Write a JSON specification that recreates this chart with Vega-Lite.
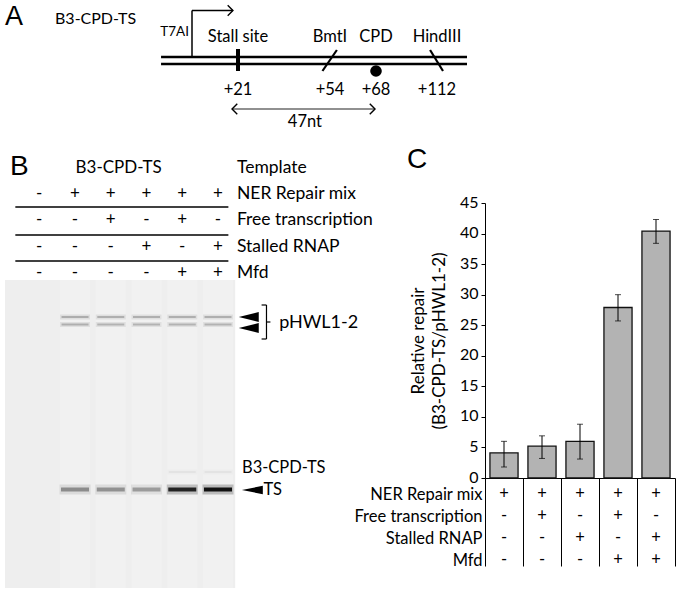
{
  "$schema": "https://vega.github.io/schema/vega-lite/v6.json",
  "padding": 0,
  "background": "white",
  "spacing": 0,
  "bounds": "flush",
  "config": {"font": "Lato", "view": {"stroke": null}, "text": {"color": "black"},
    "axisY": {"grid": false, "titleFontSize": 17, "titleFontWeight": "normal", "titleColor": "black", "titlePadding": 11, "titleLineHeight": 21,
              "labelFontSize": 16, "labelColor": "black", "labelPadding": 3, "tickSize": 4, "tickColor": "black", "domainColor": "black"}},
  "vconcat": [
    {
      "width": 677,
      "height": 140,
      "encoding": {
        "x": {"field": "pos", "type": "quantitative", "axis": null,
              "scale": {"domain": [-84, 1, 21, 54, 68, 112, 134], "range": [0, 192, 238, 330, 376, 437, 467], "zero": false, "nice": false}},
        "y": {"field": "track", "type": "quantitative", "axis": null,
              "scale": {"domain": [-7.95, 6.05], "zero": false, "nice": false}}
      },
      "layer": [
        {"data": {"values": [
          {"pos": -12.7, "pos2": 134, "track": 0.35, "track2": 0.35},
          {"pos": -12.7, "pos2": 134, "track": -0.35, "track2": -0.35}]},
         "mark": {"type": "rule", "color": "black", "strokeWidth": 2.4},
         "encoding": {"x2": {"field": "pos2"}, "y2": {"field": "track2"}}},
        {"data": {"values": [
          {"pos": 1, "pos2": 1, "track": 0.35, "track2": 5.0},
          {"pos": 1, "pos2": 18.8, "track": 5.0, "track2": 5.0}]},
         "mark": {"type": "rule", "color": "black", "strokeWidth": 1.5},
         "encoding": {"x2": {"field": "pos2"}, "y2": {"field": "track2"}}},
        {"data": {"values": [{"pos": 21, "pos2": 21, "track": 1.15, "track2": -1.05}]},
         "mark": {"type": "rule", "color": "black", "strokeWidth": 4},
         "encoding": {"x2": {"field": "pos2"}, "y2": {"field": "track2"}}},
        {"data": {"values": [
          {"pos": 51.3, "pos2": 56.1, "track": -1.05, "track2": 1.05},
          {"pos": 107, "pos2": 116.4, "track": 1.05, "track2": -1.05}]},
         "mark": {"type": "rule", "color": "black", "strokeWidth": 2.2},
         "encoding": {"x2": {"field": "pos2"}, "y2": {"field": "track2"}}},
        {"data": {"values": [{"pos": 18.4, "pos2": 67.7, "track": -4.85, "track2": -4.85}]},
         "mark": {"type": "rule", "color": "#222222", "strokeWidth": 1.2},
         "encoding": {"x2": {"field": "pos2"}, "y2": {"field": "track2"}}},
        {"data": {"values": [{"pos": 18.8, "track": 5.0}, {"pos": 67.7, "track": -4.85}]},
         "mark": {"type": "point", "shape": "M-1,-1L0,0L-1,1", "filled": false, "stroke": "black", "strokeWidth": 1.4, "size": 110, "opacity": 1}},
        {"data": {"values": [{"pos": 18.4, "track": -4.85}]},
         "mark": {"type": "point", "shape": "M1,-1L0,0L1,1", "filled": false, "stroke": "black", "strokeWidth": 1.4, "size": 110, "opacity": 1}},
        {"data": {"values": [{"pos": 68, "track": -1.05}]},
         "mark": {"type": "point", "shape": "circle", "filled": true, "color": "black", "size": 135, "opacity": 1}},
        {"data": {"values": [
          {"pos": 21, "track": 2.35, "label": "Stall site"},
          {"pos": 54, "track": 2.35, "label": "BmtI"},
          {"pos": 68, "track": 2.35, "label": "CPD"},
          {"pos": 112, "track": 2.35, "label": "HindIII"},
          {"pos": 21, "track": -2.95, "label": "+21"},
          {"pos": 54, "track": -2.95, "label": "+54"},
          {"pos": 68, "track": -2.95, "label": "+68"},
          {"pos": 112, "track": -2.95, "label": "+112"},
          {"pos": 45, "track": -6.15, "label": "47nt"}]},
         "mark": {"type": "text", "fontSize": 16.5, "align": "center", "baseline": "middle"},
         "encoding": {"text": {"field": "label"}}},
        {"data": {"values": [{"pos": -0.33, "track": 2.82, "label": "T7AI"}]},
         "mark": {"type": "text", "fontSize": 13.5, "align": "right", "baseline": "middle"},
         "encoding": {"text": {"field": "label"}}},
        {"data": {"values": [{"pos": -59.65, "track": 4.15, "label": "B3-CPD-TS"}]},
         "mark": {"type": "text", "fontSize": 16, "align": "left", "baseline": "middle"},
         "encoding": {"text": {"field": "label"}}},
        {"data": {"values": [{"pos": -81.8, "track": 4.4, "label": "A"}]},
         "mark": {"type": "text", "font": "Liberation Sans", "fontSize": 27, "align": "left", "baseline": "middle"},
         "encoding": {"text": {"field": "label"}}}
      ]
    },
    {
      "spacing": 0,
      "bounds": "flush",
      "hconcat": [
        {
          "width": 485,
          "height": 449,
          "encoding": {
            "x": {"field": "lane", "type": "quantitative", "axis": null,
                  "scale": {"domain": [0.0411, 13.329], "zero": false, "nice": false}},
            "y": {"field": "depth", "type": "quantitative", "axis": null,
                  "scale": {"domain": [0, 44.9], "reverse": true, "zero": false, "nice": false}}
          },
          "layer": [
            {"data": {"values": [{"lane": 0.041, "lane2": 6.48, "depth": 14, "depth2": 44.8}]},
             "mark": {"type": "rect", "color": "#eeeeee"},
             "encoding": {"x2": {"field": "lane2"}, "y2": {"field": "depth2"}}},
            {"data": {"values": [
              {"lane": 2, "depth": 14}, {"lane": 3, "depth": 14},
              {"lane": 4, "depth": 14}, {"lane": 5, "depth": 14}, {"lane": 6, "depth": 14}]},
             "mark": {"type": "bar", "color": "#f1f1f1", "width": 30},
             "encoding": {"y2": {"datum": 44.8}}},
            {"data": {"values": [
              {"lane": 2, "depth": 17.7, "intensity": 0.22},
              {"lane": 3, "depth": 17.7, "intensity": 0.21},
              {"lane": 4, "depth": 17.7, "intensity": 0.21},
              {"lane": 5, "depth": 17.7, "intensity": 0.21},
              {"lane": 6, "depth": 17.7, "intensity": 0.21},
              {"lane": 2, "depth": 18.45, "intensity": 0.21},
              {"lane": 3, "depth": 18.45, "intensity": 0.2},
              {"lane": 4, "depth": 18.45, "intensity": 0.2},
              {"lane": 5, "depth": 18.45, "intensity": 0.2},
              {"lane": 6, "depth": 18.45, "intensity": 0.2},
              {"lane": 5, "depth": 33.2, "intensity": 0.04},
              {"lane": 6, "depth": 33.2, "intensity": 0.04}]},
             "layer": [
               {"mark": {"type": "tick", "orient": "horizontal", "size": 30, "thickness": 5, "color": "black", "fillOpacity": 0.35}},
               {"mark": {"type": "tick", "orient": "horizontal", "size": 27, "thickness": 2, "color": "black"}}
             ],
             "encoding": {"opacity": {"field": "intensity", "type": "quantitative", "legend": null, "scale": {"domain": [0, 1], "range": [0, 1]}}}},
            {"data": {"values": [
              {"lane": 2, "depth": 34.95, "intensity": 0.36},
              {"lane": 3, "depth": 34.95, "intensity": 0.34},
              {"lane": 4, "depth": 34.95, "intensity": 0.3},
              {"lane": 5, "depth": 34.95, "intensity": 0.82},
              {"lane": 6, "depth": 34.95, "intensity": 0.9}]},
             "layer": [
               {"mark": {"type": "tick", "orient": "horizontal", "size": 31, "thickness": 10, "color": "black", "fillOpacity": 0.25}},
               {"mark": {"type": "tick", "orient": "horizontal", "size": 28, "thickness": 4, "color": "black"}}
             ],
             "encoding": {"opacity": {"field": "intensity", "type": "quantitative", "legend": null, "scale": {"domain": [0, 1], "range": [0, 1]}}}},
            {"data": {"values": [
              {"lane": 0.33, "lane2": 6.29, "depth": 6.7, "depth2": 6.7},
              {"lane": 0.33, "lane2": 6.29, "depth": 9.5, "depth2": 9.5},
              {"lane": 0.33, "lane2": 6.29, "depth": 12.1, "depth2": 12.1}]},
             "mark": {"type": "rule", "color": "black", "strokeWidth": 1.3},
             "encoding": {"x2": {"field": "lane2"}, "y2": {"field": "depth2"}}},
            {"data": {"values": [
              {"lane": 7.219, "lane2": 7.356, "depth": 16.5, "depth2": 16.5},
              {"lane": 7.356, "lane2": 7.356, "depth": 16.5, "depth2": 19.9},
              {"lane": 7.219, "lane2": 7.356, "depth": 19.9, "depth2": 19.9},
              {"lane": 7.356, "lane2": 7.466, "depth": 18.2, "depth2": 18.2}]},
             "mark": {"type": "rule", "color": "black", "strokeWidth": 1.2},
             "encoding": {"x2": {"field": "lane2"}, "y2": {"field": "depth2"}}},
            {"data": {"values": [{"lane": 6.86, "depth": 17.7}, {"lane": 6.86, "depth": 18.8}]},
             "mark": {"type": "point", "shape": "M-1,0L1,-0.5L1,0.5Z", "filled": true, "color": "black", "size": 400, "opacity": 1}},
            {"data": {"values": [{"lane": 6.96, "depth": 35.0}]},
             "mark": {"type": "point", "shape": "M-1,0L1,-0.4L1,0.4Z", "filled": true, "color": "black", "size": 441, "opacity": 1}},
            {"data": {"values": [{"lane": 0.178, "depth": 2.7, "label": "B"}]},
             "mark": {"type": "text", "font": "Liberation Sans", "fontSize": 28, "align": "left", "baseline": "middle"},
             "encoding": {"text": {"field": "label"}}},
            {"data": {"values": [{"lane": 3.22, "depth": 2.8, "label": "B3-CPD-TS"}]},
             "mark": {"type": "text", "fontSize": 17, "align": "center", "baseline": "middle"},
             "encoding": {"text": {"field": "label"}}},
            {"data": {"values": [
              {"lane": 6.53, "depth": 2.8, "label": "Template"},
              {"lane": 6.53, "depth": 5.4, "label": "NER Repair mix"},
              {"lane": 6.53, "depth": 8.0, "label": "Free transcription"},
              {"lane": 6.53, "depth": 10.7, "label": "Stalled RNAP"},
              {"lane": 6.53, "depth": 13.3, "label": "Mfd"}]},
             "mark": {"type": "text", "fontSize": 17.5, "align": "left", "baseline": "middle"},
             "encoding": {"text": {"field": "label"}}},
            {"data": {"values": [
              {"lane": 7.71, "depth": 18.3, "label": "pHWL1-2"}]},
             "mark": {"type": "text", "fontSize": 18, "align": "left", "baseline": "middle"},
             "encoding": {"text": {"field": "label"}}},
            {"data": {"values": [
              {"lane": 6.67, "depth": 32.8, "label": "B3-CPD-TS"},
              {"lane": 7.27, "depth": 35.0, "label": "TS"}]},
             "mark": {"type": "text", "fontSize": 16.5, "align": "left", "baseline": "middle"},
             "encoding": {"text": {"field": "label"}}},
            {"data": {"values": [
              {"lane": 1, "depth": 5.4, "sym": "-"}, {"lane": 2, "depth": 5.4, "sym": "+"}, {"lane": 3, "depth": 5.4, "sym": "+"},
              {"lane": 4, "depth": 5.4, "sym": "+"}, {"lane": 5, "depth": 5.4, "sym": "+"}, {"lane": 6, "depth": 5.4, "sym": "+"},
              {"lane": 1, "depth": 8.0, "sym": "-"}, {"lane": 2, "depth": 8.0, "sym": "-"}, {"lane": 3, "depth": 8.0, "sym": "+"},
              {"lane": 4, "depth": 8.0, "sym": "-"}, {"lane": 5, "depth": 8.0, "sym": "+"}, {"lane": 6, "depth": 8.0, "sym": "-"},
              {"lane": 1, "depth": 10.7, "sym": "-"}, {"lane": 2, "depth": 10.7, "sym": "-"}, {"lane": 3, "depth": 10.7, "sym": "-"},
              {"lane": 4, "depth": 10.7, "sym": "+"}, {"lane": 5, "depth": 10.7, "sym": "-"}, {"lane": 6, "depth": 10.7, "sym": "+"},
              {"lane": 1, "depth": 13.3, "sym": "-"}, {"lane": 2, "depth": 13.3, "sym": "-"}, {"lane": 3, "depth": 13.3, "sym": "-"},
              {"lane": 4, "depth": 13.3, "sym": "-"}, {"lane": 5, "depth": 13.3, "sym": "+"}, {"lane": 6, "depth": 13.3, "sym": "+"}]},
             "mark": {"type": "text", "fontSize": 17, "align": "center", "baseline": "middle"},
             "encoding": {"text": {"field": "sym"}}}
          ]
        },
        {
          "spacing": 0,
          "bounds": "flush",
          "vconcat": [
            {"width": 190, "height": 63, "data": {"values": []}, "mark": "point"},
            {
              "width": 190,
              "height": 275,
              "title": {"text": "C", "anchor": "start", "frame": "group", "font": "Liberation Sans", "fontSize": 28, "fontWeight": "normal", "color": "black", "dx": -78, "offset": 20},
              "data": {"values": [
                {"cond": "c1", "value": 4.1, "lo": 1.8, "hi": 6.0},
                {"cond": "c2", "value": 5.2, "lo": 3.2, "hi": 6.9},
                {"cond": "c3", "value": 6.0, "lo": 3.1, "hi": 8.8},
                {"cond": "c4", "value": 27.9, "lo": 25.7, "hi": 30.0},
                {"cond": "c5", "value": 40.4, "lo": 38.4, "hi": 42.3}]},
              "encoding": {
                "x": {"field": "cond", "type": "nominal", "sort": null,
                      "scale": {"paddingInner": 0.26, "paddingOuter": 0.13},
                      "axis": {"labels": false, "ticks": false, "title": null, "domainColor": "black", "domainWidth": 1.2}}
              },
              "layer": [
                {"mark": {"type": "bar", "color": "#b3b3b3", "stroke": "#111111", "strokeWidth": 1.3},
                 "encoding": {"y": {"field": "value", "type": "quantitative",
                   "scale": {"domain": [0, 45], "nice": false},
                   "axis": {"values": [0, 5, 10, 15, 20, 25, 30, 35, 40, 45], "labelOverlap": false, "labelOffset": -1, "title": ["Relative repair", "(B3-CPD-TS/pHWL1-2)"]}}}},
                {"mark": {"type": "rule", "color": "black", "strokeWidth": 1},
                 "encoding": {"y": {"field": "lo", "type": "quantitative",
                   "axis": {"values": [0, 5, 10, 15, 20, 25, 30, 35, 40, 45], "labelOverlap": false, "labelOffset": -1, "title": ["Relative repair", "(B3-CPD-TS/pHWL1-2)"]}}, "y2": {"field": "hi"}}},
                {"mark": {"type": "tick", "color": "black", "size": 6, "thickness": 1},
                 "encoding": {"y": {"field": "lo", "type": "quantitative",
                   "axis": {"values": [0, 5, 10, 15, 20, 25, 30, 35, 40, 45], "labelOverlap": false, "labelOffset": -1, "title": ["Relative repair", "(B3-CPD-TS/pHWL1-2)"]}}}},
                {"mark": {"type": "tick", "color": "black", "size": 6, "thickness": 1},
                 "encoding": {"y": {"field": "hi", "type": "quantitative",
                   "axis": {"values": [0, 5, 10, 15, 20, 25, 30, 35, 40, 45], "labelOverlap": false, "labelOffset": -1, "title": ["Relative repair", "(B3-CPD-TS/pHWL1-2)"]}}}}
              ]
            },
            {
              "width": 190,
              "height": 88,
              "data": {"values": [
                {"cond": "c1", "row": "NER Repair mix", "sym": "+"},
                {"cond": "c2", "row": "NER Repair mix", "sym": "+"},
                {"cond": "c3", "row": "NER Repair mix", "sym": "+"},
                {"cond": "c4", "row": "NER Repair mix", "sym": "+"},
                {"cond": "c5", "row": "NER Repair mix", "sym": "+"},
                {"cond": "c1", "row": "Free transcription", "sym": "-"},
                {"cond": "c2", "row": "Free transcription", "sym": "+"},
                {"cond": "c3", "row": "Free transcription", "sym": "-"},
                {"cond": "c4", "row": "Free transcription", "sym": "+"},
                {"cond": "c5", "row": "Free transcription", "sym": "-"},
                {"cond": "c1", "row": "Stalled RNAP", "sym": "-"},
                {"cond": "c2", "row": "Stalled RNAP", "sym": "-"},
                {"cond": "c3", "row": "Stalled RNAP", "sym": "+"},
                {"cond": "c4", "row": "Stalled RNAP", "sym": "-"},
                {"cond": "c5", "row": "Stalled RNAP", "sym": "+"},
                {"cond": "c1", "row": "Mfd", "sym": "-"},
                {"cond": "c2", "row": "Mfd", "sym": "-"},
                {"cond": "c3", "row": "Mfd", "sym": "-"},
                {"cond": "c4", "row": "Mfd", "sym": "+"},
                {"cond": "c5", "row": "Mfd", "sym": "+"}]},
              "mark": {"type": "text", "fontSize": 16.5, "dy": 5, "color": "black"},
              "encoding": {
                "x": {"field": "cond", "type": "nominal", "sort": null,
                      "scale": {"paddingInner": 0, "paddingOuter": 0},
                      "axis": {"orient": "top", "labels": false, "ticks": false, "domain": false, "title": null,
                               "grid": true, "gridColor": "black", "gridWidth": 1, "gridOpacity": 1, "tickBand": "extent"}},
                "y": {"field": "row", "type": "nominal", "sort": ["NER Repair mix", "Free transcription", "Stalled RNAP", "Mfd"],
                      "scale": {"paddingInner": 0, "paddingOuter": 0},
                      "axis": {"title": null, "ticks": false, "domain": false, "labelFontSize": 16.5, "labelColor": "black", "labelPadding": 3, "labelOffset": 5}},
                "text": {"field": "sym"}
              }
            }
          ]
        }
      ]
    }
  ]
}
